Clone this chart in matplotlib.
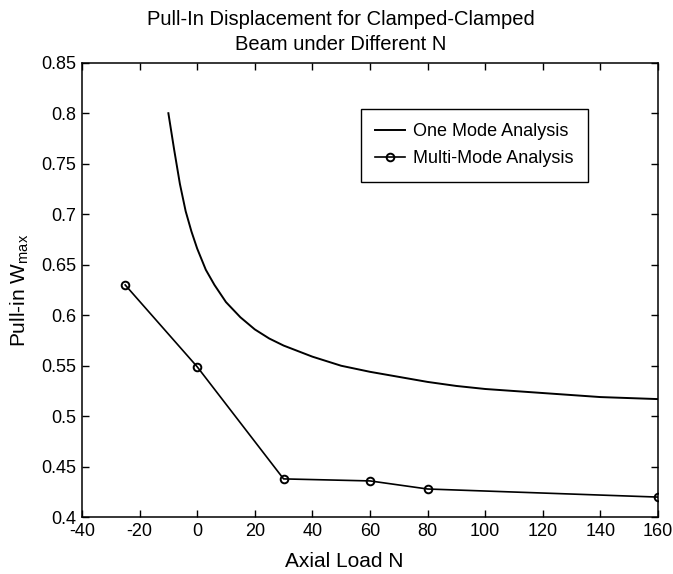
import numpy as np
import matplotlib
matplotlib.use('Agg')
import matplotlib.pyplot as plt

plt.rcParams['font.family'] = ['Liberation Sans', 'DejaVu Sans']
plt.rcParams['mathtext.fontset'] = 'custom'
plt.rcParams['mathtext.rm'] = 'Liberation Sans'
plt.rcParams['axes.unicode_minus'] = False

# one-mode analysis curve (axial load N vs. pull-in W_max)
n_one = [-10, -8, -6, -4, -2, 0, 3, 6, 10, 15, 20, 25, 30, 40, 50,
         60, 70, 80, 90, 100, 110, 120, 130, 140, 150, 160]
w_one = [0.800, 0.764, 0.730, 0.703, 0.683, 0.666, 0.645, 0.630, 0.613,
         0.598, 0.586, 0.577, 0.570, 0.559, 0.550, 0.544, 0.539, 0.534,
         0.530, 0.527, 0.525, 0.523, 0.521, 0.519, 0.518, 0.517]

# multi-mode analysis points
n_multi = [-25, 0, 30, 60, 80, 160]
w_multi = [0.630, 0.549, 0.438, 0.436, 0.428, 0.420]

xticks = np.arange(-40, 161, 20)
yticks = [0.4, 0.45, 0.5, 0.55, 0.6, 0.65, 0.7, 0.75, 0.8, 0.85]
yticklabels = ['0.4', '0.45', '0.5', '0.55', '0.6', '0.65', '0.7', '0.75', '0.8', '0.85']

fig = plt.figure(figsize=(6.73, 5.74), dpi=100)
ax = fig.add_axes([0.1218, 0.0988, 0.8559, 0.792])

ax.plot(n_one, w_one, color='black', linewidth=1.4, label='One Mode Analysis')
ax.plot(n_multi, w_multi, color='black', linewidth=1.2, marker='o',
        markersize=5.5, markerfacecolor='none', markeredgewidth=1.4,
        label='Multi-Mode Analysis')

ax.set_xlim(-40, 160)
ax.set_ylim(0.4, 0.85)
ax.set_xticks(xticks)
ax.set_yticks(yticks)
ax.set_yticklabels(yticklabels)
ax.tick_params(direction='in', top=True, right=True, length=5, width=1,
               labelsize=13, pad=4)
for sp in ax.spines.values():
    sp.set_linewidth(1.1)

ax.set_xlabel('Axial Load N', fontsize=15)
ax.xaxis.set_label_coords(0.455, -0.076)
ax.set_ylabel('Pull-in W$_{\\rm max}$', fontsize=15)
ax.yaxis.set_label_coords(-0.088, 0.5)
ax.set_title('Pull-In Displacement for Clamped-Clamped\nBeam under Different N',
             fontsize=14.5, pad=9, linespacing=1.4, x=0.45)

leg = ax.legend(loc='upper left', bbox_to_anchor=(0.484, 0.898), fontsize=13,
                fancybox=False, framealpha=1, edgecolor='black',
                borderaxespad=0, handlelength=1.65, handletextpad=0.45,
                borderpad=0.8, labelspacing=0.55)
leg.get_frame().set_linewidth(1.0)

fig.savefig('out.png', dpi=100)
